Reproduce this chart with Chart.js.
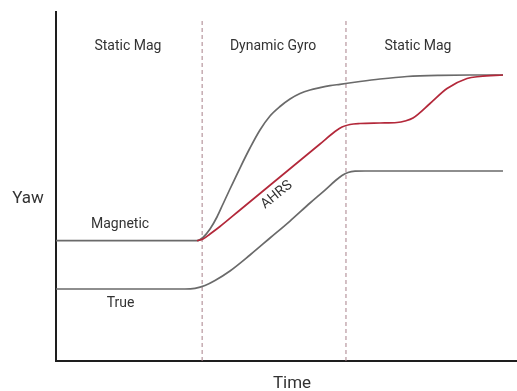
<!DOCTYPE html>
<html>
<head>
<meta charset="utf-8">
<script src="https://cdn.jsdelivr.net/npm/chart.js@4/dist/chart.umd.min.js"></script>
<style>
  html, body { margin: 0; padding: 0; background: #fff; }
  #wrap { width: 517px; height: 391px; position: relative; }
</style>
</head>
<body>
<div id="wrap"><canvas id="c" width="517" height="391"></canvas></div>
<script>
// ---- data (time units 0..100, yaw units 0..100) ----
const magneticT = [0, 30.59, 31.89, 33.41, 34.92, 36.23, 37.74, 39.91, 42.08, 44.25, 46.42, 48.59, 50.76, 52.93, 55.10, 57.27, 59.44, 61.61, 65.94, 70.28, 76.14, 83.30, 89.80, 96.96];
const magneticY = [34.47, 34.47, 35.39, 37.82, 41.26, 44.99, 49.28, 55.30, 61.03, 66.19, 70.20, 72.92, 75.07, 76.65, 77.65, 78.31, 78.88, 79.28, 80.09, 80.80, 81.52, 81.86, 81.95, 81.95];

const ahrsT = [30.59, 31.89, 33.41, 35.57, 39.91, 44.25, 48.59, 52.93, 57.27, 60.52, 62.04, 63.77, 65.94, 70.28, 73.97, 75.70, 77.44, 81.13, 84.82, 89.15, 91.97, 96.96];
const ahrsY = [34.47, 34.96, 36.39, 38.54, 43.27, 47.99, 52.72, 57.45, 62.18, 65.76, 67.05, 67.77, 68.05, 68.19, 68.34, 68.77, 69.63, 73.78, 78.08, 80.95, 81.52, 81.95];

const trueT = [0, 27.98, 30.15, 32.32, 34.49, 37.74, 42.08, 46.42, 50.76, 55.10, 58.35, 60.52, 62.04, 63.34, 64.86, 67.03, 96.96];
const trueY = [20.63, 20.63, 20.83, 21.63, 23.07, 25.79, 30.37, 35.24, 40.11, 45.27, 48.99, 51.58, 53.15, 54.01, 54.38, 54.44, 54.44];

const phaseBoundaries = [31.7, 62.9];
const phaseNames = ["Static Mag", "Dynamic Gyro", "Static Mag"];
const phaseCenters = [15.6, 47.1, 78.5];

const seriesLabels = ["Magnetic", "True", "AHRS"];
const xTitle = "Time";
const yTitle = "Yaw";

const toPts = (ts, ys) => ts.map((t, i) => ({ x: t, y: ys[i] }));

const GRAY = '#6a6a6a';
const RED = '#b3283a';
const TEXT = '#333333';
const FONT = 'Roboto, "Noto Sans", sans-serif';

const lineStyle = { borderWidth: 1.7, pointRadius: 0, cubicInterpolationMode: 'monotone', fill: false };
const datasets = [
  Object.assign({ label: seriesLabels[0], data: toPts(magneticT, magneticY), borderColor: GRAY, order: 2 }, lineStyle),
  Object.assign({ label: seriesLabels[1], data: toPts(trueT, trueY), borderColor: GRAY, order: 2 }, lineStyle),
  Object.assign({ label: seriesLabels[2], data: toPts(ahrsT, ahrsY), borderColor: RED, order: 1 }, lineStyle)
];
phaseBoundaries.forEach(b => {
  datasets.push({ label: 'phase', data: [{ x: b, y: 0 }, { x: b, y: 97.7 }], borderColor: '#a8808a', borderWidth: 1, borderDash: [4, 3], pointRadius: 0, tension: 0, fill: false, order: 3 });
});

const textPlugin = {
  id: 'texts',
  afterDraw(chart) {
    const ctx = chart.ctx;
    const xs = chart.scales.x, ys = chart.scales.y;
    ctx.save();
    ctx.fillStyle = TEXT;
    ctx.textAlign = 'center';
    ctx.textBaseline = 'alphabetic';
    ctx.font = '14px ' + FONT;
    phaseNames.forEach((n, i) => ctx.fillText(n, xs.getPixelForValue(phaseCenters[i]), 50));
    ctx.fillText(seriesLabels[0], xs.getPixelForValue(13.9), ys.getPixelForValue(38.1));
    ctx.fillText(seriesLabels[1], xs.getPixelForValue(14.0), ys.getPixelForValue(15.5));
    // AHRS rotated along its line
    ctx.save();
    ctx.translate(xs.getPixelForValue(47.9), ys.getPixelForValue(47.6));
    ctx.rotate(-39 * Math.PI / 180);
    ctx.textBaseline = 'middle';
    ctx.fillText(seriesLabels[2], 0, 0);
    ctx.restore();
    ctx.font = '17px ' + FONT;
    ctx.fillText(yTitle, 28, 203);
    ctx.fillText(xTitle, 292, 388);
    ctx.restore();
  }
};

new Chart(document.getElementById('c'), {
  type: 'line',
  data: { datasets },
  options: {
    responsive: false,
    animation: false,
    layout: { padding: { top: 12, right: 0, left: 0, bottom: 0 } },
    plugins: { legend: { display: false }, tooltip: { enabled: false } },
    scales: {
      x: {
        type: 'linear', min: 0, max: 100,
        ticks: { display: false }, grid: { display: false, drawTicks: false },
        border: { display: true, color: '#1e1e1e', width: 2 },
        afterFit(s) { s.height = 30; }
      },
      y: {
        type: 'linear', min: 0, max: 100,
        ticks: { display: false }, grid: { display: false, drawTicks: false },
        border: { display: true, color: '#1e1e1e', width: 2 },
        afterFit(s) { s.width = 56; }
      }
    }
  },
  plugins: [textPlugin]
});
</script>
</body>
</html>
